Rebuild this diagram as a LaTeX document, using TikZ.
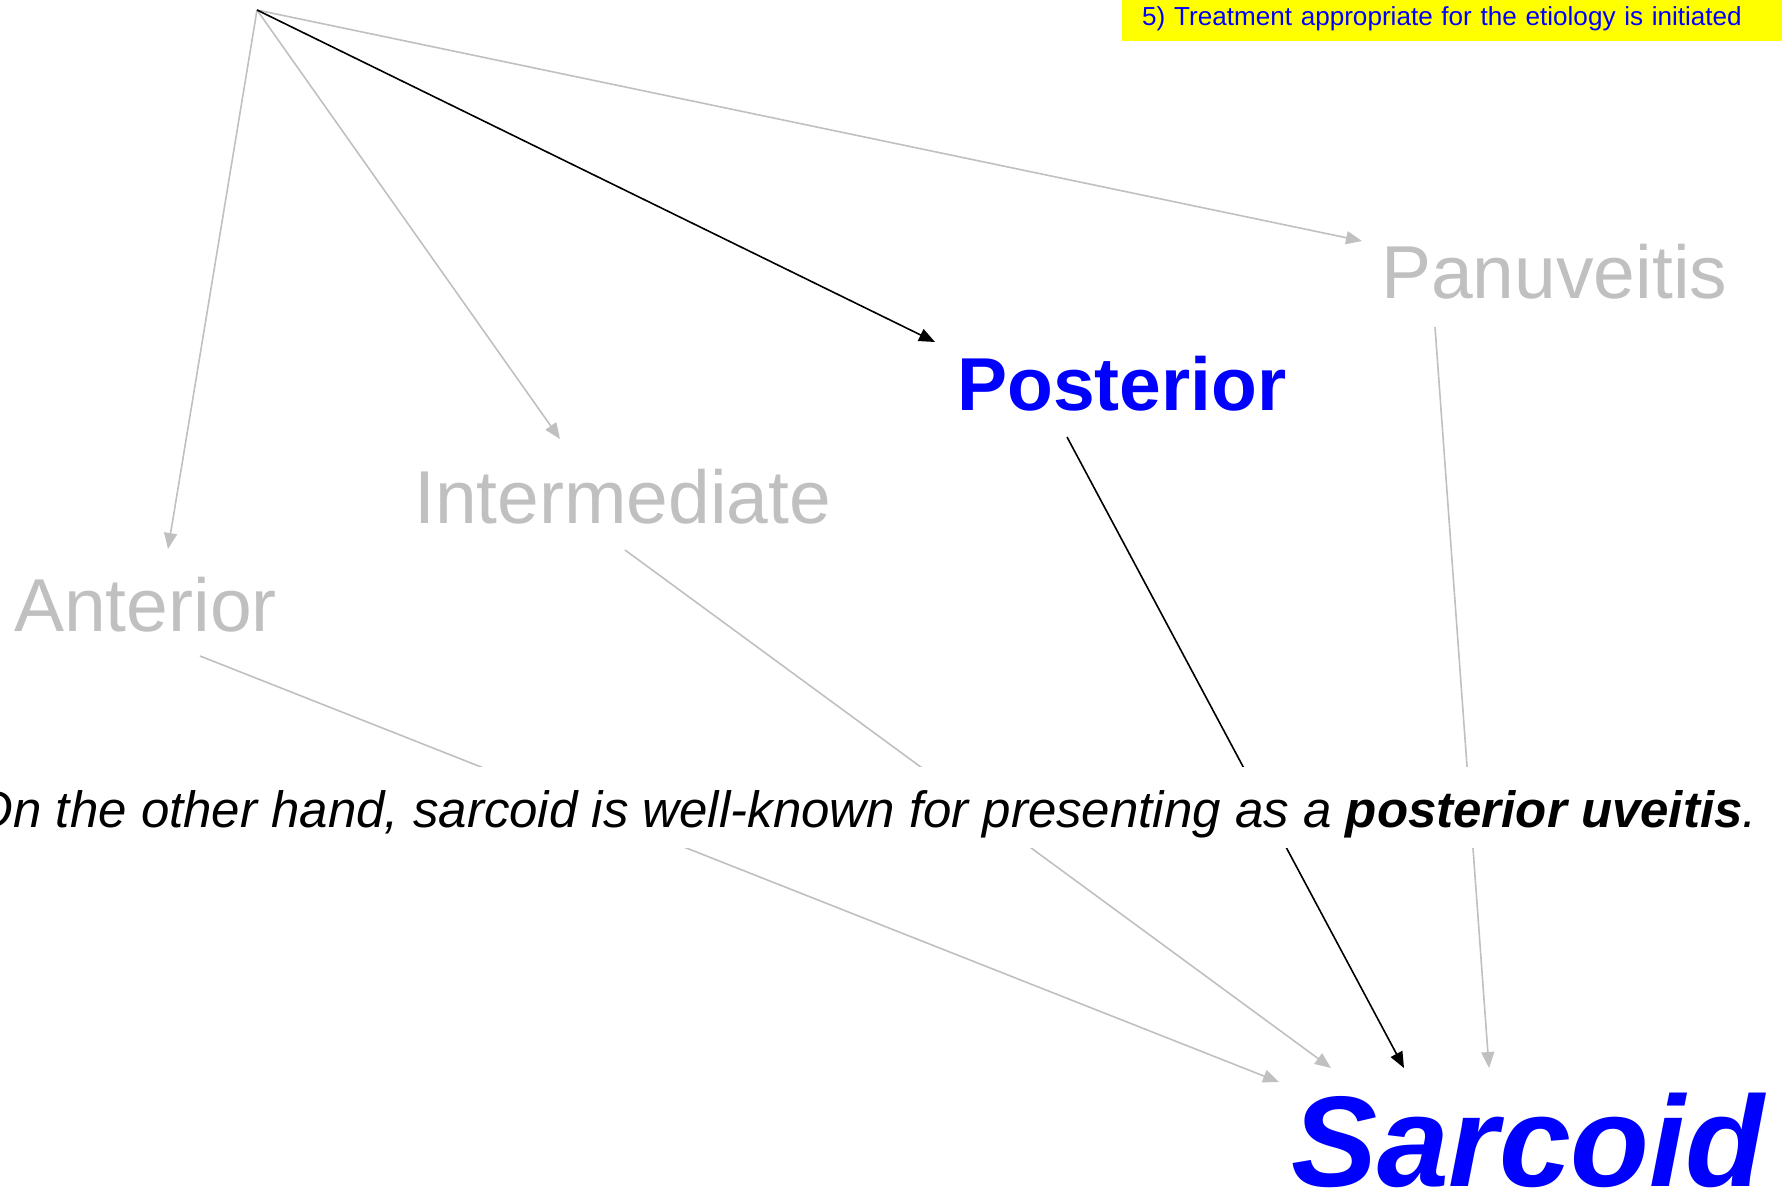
\documentclass[tikz,border=0pt]{standalone}
\usepackage{fontspec}
\setmainfont{Liberation Sans}
\usetikzlibrary{arrows.meta}
\definecolor{silver}{HTML}{C0C0C0}
\definecolor{pureblue}{HTML}{0000FF}
\definecolor{hiyellow}{HTML}{FFFF00}

\begin{document}
\begin{tikzpicture}[x=1pt,y=-1pt,
  termtext/.style={inner sep=0pt, anchor=base west},
  dimterm/.style={termtext, text=silver, font=\fontsize{75}{80}\selectfont},
  hotterm/.style={termtext, text=pureblue, font=\fontsize{75}{80}\selectfont\bfseries},
  link/.style={line width=1.6pt, -{Triangle[length=16pt,width=13pt]}},
  dimlink/.style={link, draw=silver, fill=silver},
  hotlink/.style={link, draw=black, fill=black},
]
\useasboundingbox (0,0) rectangle (1782,1189);

% step banner
\node[fill=hiyellow, anchor=north west, inner xsep=20pt, inner ysep=0pt,
      text width=620pt, align=left, text height=25pt, text depth=16pt,
      text=pureblue, font=\fontsize{26.1}{30}\selectfont] (banner) at (1122,0)
  {5) Treatment appropriate for the etiology is initiated};

% uveitis locations
\node[dimterm] (ant) at (14,631) {Anterior};
\node[dimterm] (inter) at (414,523) {Intermediate};
\node[hotterm] (post) at (957,410) {Posterior};
\node[dimterm] (pan) at (1381,298) {Panuveitis};

% diagnosis
\node[termtext, text=pureblue, font=\fontsize{129}{140}\selectfont\bfseries\itshape]
  (sar) at (1291,1186) {Sarcoid};

% connector end points
\coordinate (root) at (257,10);
\coordinate (ant-in) at (168,549);
\coordinate (inter-in) at (560,439);
\coordinate (post-in) at (935,342);
\coordinate (pan-in) at (1362,241);
\coordinate (ant-out) at (200,656);
\coordinate (inter-out) at (625,550);
\coordinate (post-out) at (1067,437);
\coordinate (pan-out) at (1435,327);
\coordinate (sar-a) at (1279,1082);
\coordinate (sar-i) at (1331,1068);
\coordinate (sar-p) at (1404,1068);
\coordinate (sar-n) at (1489,1068);

% branches from the root
\draw[dimlink] (root) -- (ant-in);
\draw[dimlink] (root) -- (inter-in);
\draw[dimlink] (root) -- (pan-in);
\draw[hotlink] (root) -- (post-in);

% branches into the diagnosis
\draw[dimlink] (ant-out) -- (sar-a);
\draw[dimlink] (inter-out) -- (sar-i);
\draw[dimlink] (pan-out) -- (sar-n);
\draw[hotlink] (post-out) -- (sar-p);

% caption band over the connectors
\node[fill=white, inner sep=0pt, text height=60pt, text depth=21pt,
      anchor=base east, font=\fontsize{51}{56}\selectfont\itshape] (note) at (1757,827)
  {On the other hand, sarcoid is well-known for presenting as a \textbf{posterior uveitis}.};
\end{tikzpicture}
\end{document}
